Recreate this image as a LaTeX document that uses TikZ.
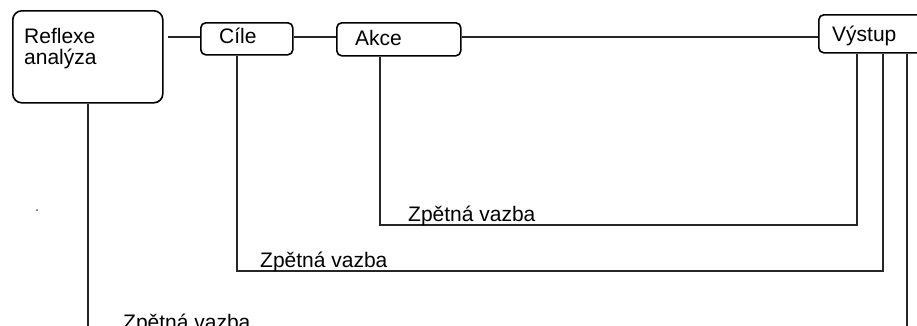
\documentclass[tikz,border=0pt]{standalone}
\usepackage{fontspec}
\setmainfont{Liberation Sans}
\begin{document}
\begin{tikzpicture}[x=1pt,y=-1pt,
  box/.style={draw, line width=1.6pt, rounded corners=#1, inner sep=0pt, anchor=north west},
  box/.default=5pt,
  lbl/.style={anchor=base west, inner sep=0pt, font=\fontsize{21}{25}\selectfont},
  wire/.style={line width=1.8pt, draw=black!85}]
\useasboundingbox (0,0) rectangle (917,325);
\clip (0,0) rectangle (917,325);

% process boxes
\node[box=9pt, minimum width=150pt, minimum height=92pt] (refl) at (12,10) {};
\node[box, minimum width=92pt, minimum height=32pt] (cile) at (200,22) {};
\node[box, minimum width=124pt, minimum height=33pt] (akce) at (336,22) {};
\node[box, minimum width=120pt, minimum height=38pt] (vyst) at (818,14) {};

% box captions
\node[lbl] (t1) at (24,43) {Reflexe};
\node[lbl] (t2) at (24,64) {analýza};
\node[lbl] (t3) at (219,43) {Cíle};
\node[lbl] (t4) at (355,45) {Akce};
\node[lbl] (t5) at (832,41) {Výstup};

% main chain
\coordinate (r0) at (168,37);
\draw[wire] (r0) -- (cile.west |- r0);
\draw[wire] (cile.east |- r0) -- (akce.west |- r0);
\draw[wire] (akce.east |- r0) -- (vyst.west |- r0);

% feedback loops back from the output
\coordinate (a1) at ([xshift=44pt]akce.south west);
\coordinate (b1) at ([xshift=39pt]vyst.south west);
\draw[wire] (a1) -- (a1 |- 0,225) -- (b1 |- 0,225) -- (b1);

\coordinate (a2) at ([xshift=37pt]cile.south west);
\coordinate (b2) at ([xshift=65pt]vyst.south west);
\draw[wire] (a2) -- (a2 |- 0,271) -- (b2 |- 0,271) -- (b2);

\coordinate (a3) at ([xshift=76pt]refl.south west);
\coordinate (b3) at ([xshift=89pt]vyst.south west);
\draw[wire] (a3) -- (a3 |- 0,330);
\draw[wire] (b3) -- (b3 |- 0,330);

% loop labels
\node[lbl] (f1) at (408,221) {Zpětná vazba};
\node[lbl] (f2) at (260,267) {Zpětná vazba};
\node[lbl] (f3) at (123,329) {Zpětná vazba};

% stray point
\fill[black!70] (37,210) circle (1pt);
\end{tikzpicture}
\end{document}
